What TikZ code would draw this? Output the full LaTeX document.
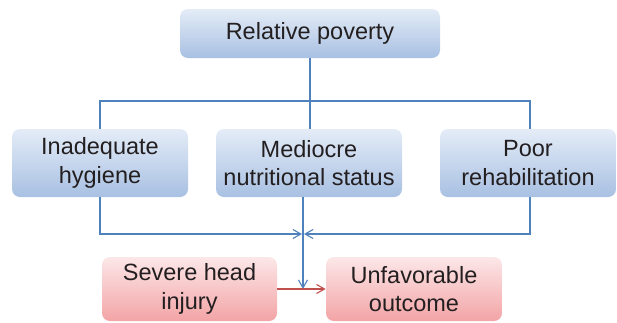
\documentclass[tikz,border=0pt]{standalone}
\usepackage{fontspec}
\setmainfont{Liberation Sans}
\usetikzlibrary{arrows.meta}

\definecolor{boxtop}{RGB}{228,236,247}
\definecolor{boxbot}{RGB}{168,192,226}
\definecolor{redtop}{RGB}{252,231,232}
\definecolor{redbot}{RGB}{243,164,166}
\definecolor{linkblue}{RGB}{79,129,189}
\definecolor{linkred}{RGB}{192,80,77}
\definecolor{txt}{RGB}{35,31,32}

\tikzset{every picture/.style={line width=0.75pt}}
\tikzset{
	bluebox/.style={rounded corners=8pt, top color=boxtop, bottom color=boxbot, draw=none, text=txt, align=center, inner sep=0pt, font=\fontsize{23.5}{28.5}\selectfont},
	redbox/.style={bluebox, top color=redtop, bottom color=redbot},
	link/.style={draw=linkblue, line width=1.3pt},
	tip/.style={-{Straight Barb[length=8pt,width=9pt,line width=1.1pt]}}}

\begin{document}
\begin{tikzpicture}[x=1pt,y=1pt,yscale=-1,xscale=1]
	\useasboundingbox (0,0) rectangle (617,322);

	%Shape: Rounded Rect
	\node [bluebox, minimum width=260, minimum height=49] (pov) at (310,33.5) {Relative poverty};
	%Shape: Rounded Rect
	\node [bluebox, minimum width=176, minimum height=68] (hyg) at (100,163) {Inadequate\\hygiene};
	%Shape: Rounded Rect
	\node [bluebox, minimum width=186, minimum height=68] (nut) at (309,163) {Mediocre\\nutritional status};
	%Shape: Rounded Rect
	\node [bluebox, minimum width=176, minimum height=68] (reh) at (528,163) {Poor\\rehabilitation};
	%Shape: Rounded Rect
	\node [redbox, minimum width=175, minimum height=64] (inj) at (189.5,289) {Severe head\\injury};
	%Shape: Rounded Rect
	\node [redbox, minimum width=176, minimum height=64] (out) at (414,289) {Unfavorable\\outcome};

	\coordinate (split) at (310,101);
	\coordinate (merge) at (303,234);

	%Straight Lines
	\draw [link] (pov.south) -- (pov.south |- nut.north);
	%Straight Lines
	\draw [link] (hyg.north) -- (hyg.north |- split) -- ([xshift=2pt]reh.north |- split) -- ([xshift=2pt]reh.north);
	%Straight Lines
	\draw [link, tip] (hyg.south) |- ([xshift=-1pt]merge);
	%Straight Lines
	\draw [link, tip] ([xshift=2pt]reh.south) |- ([xshift=1pt]merge);
	%Straight Lines
	\draw [link, tip] (merge |- nut.south) -- (merge |- inj.east);
	%Straight Lines
	\draw [link, draw=linkred, tip] (inj.east) -- (out.west);

\end{tikzpicture}
\end{document}
